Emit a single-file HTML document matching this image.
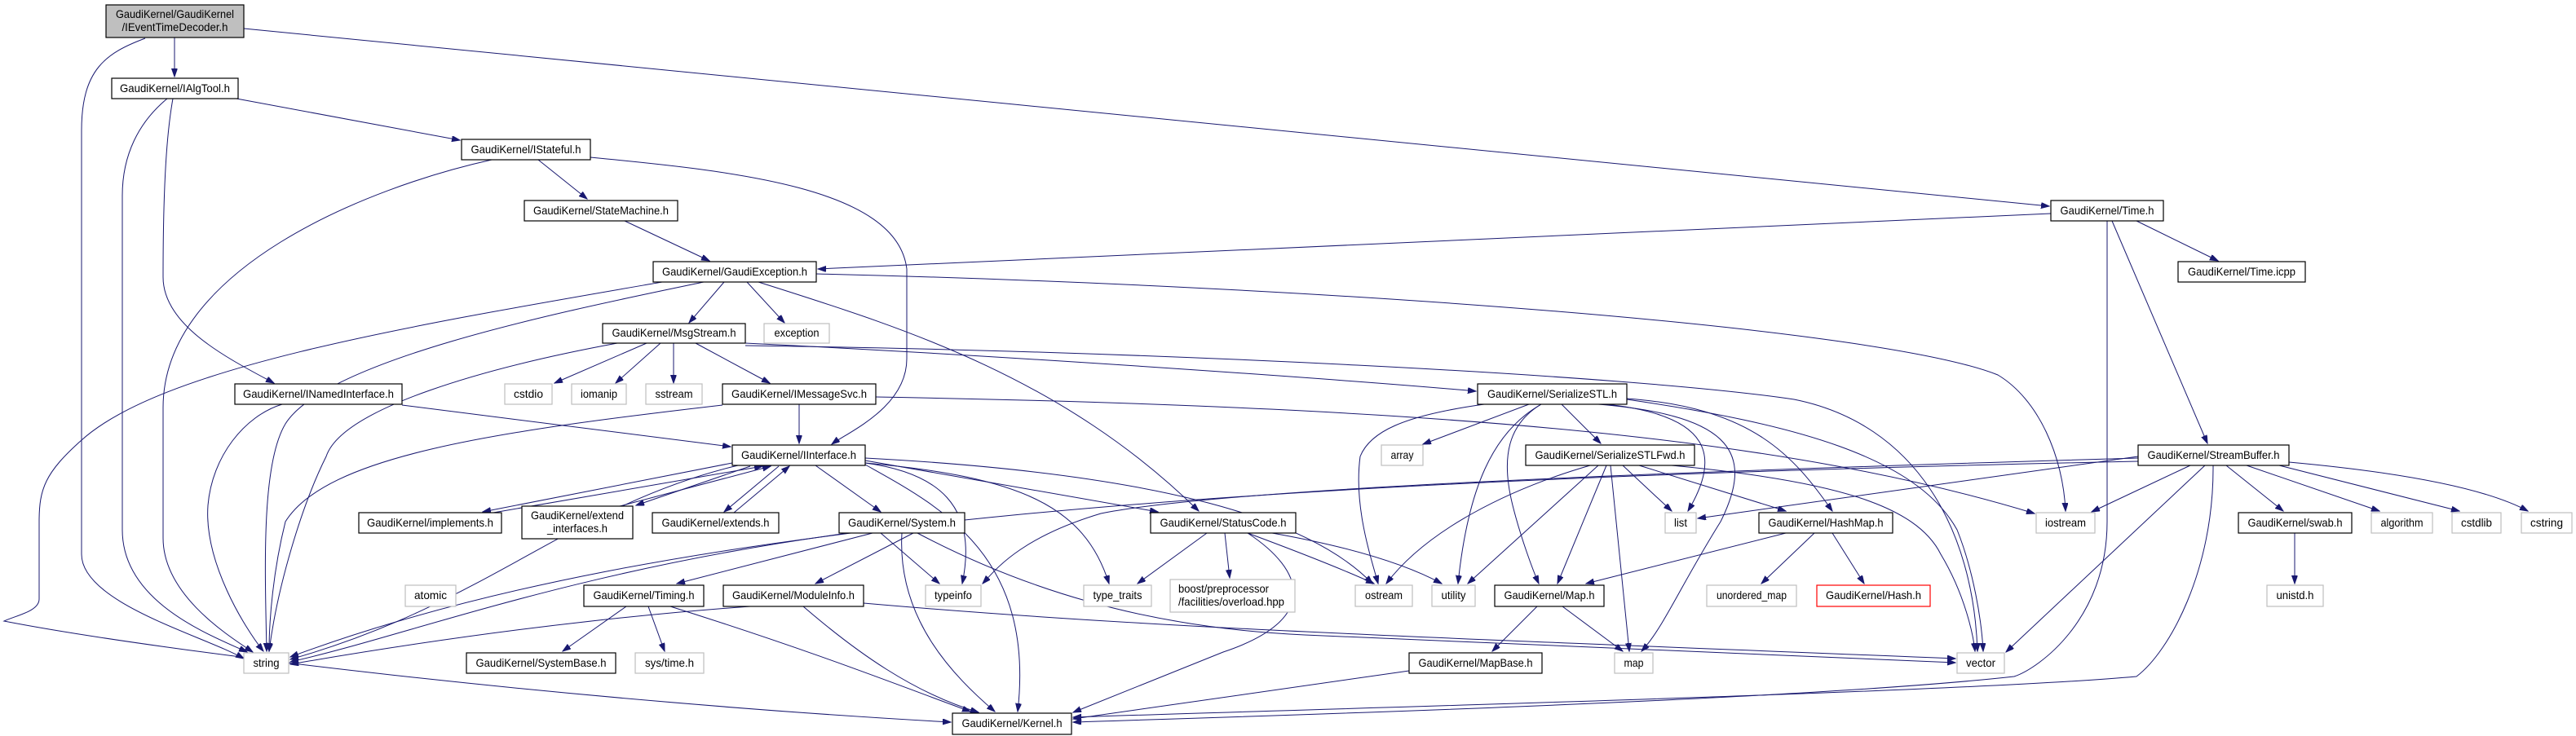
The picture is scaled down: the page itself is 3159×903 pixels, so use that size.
<!DOCTYPE html>
<html><head><meta charset="utf-8"><style>
html,body{margin:0;padding:0;background:#fff;}
svg{display:block;}
text{font-family:"Liberation Sans",sans-serif;font-size:14px;fill:#000;}
.b{fill:#fff;stroke:#000;stroke-width:1.2;}
.g{fill:#fff;stroke:#bfbfbf;stroke-width:1.2;}
.r{fill:#fff;stroke:#ff0000;stroke-width:1.2;}
.e path{fill:none;stroke:#191970;stroke-width:1;marker-end:url(#a);}
</style></head><body>
<svg width="3159" height="903" viewBox="0 0 3159 903" xmlns="http://www.w3.org/2000/svg">
<defs><marker id="a" markerUnits="userSpaceOnUse" markerWidth="11" markerHeight="8" refX="10" refY="3.5" orient="auto"><path d="M0,0 L10,3.5 L0,7 z" fill="#191970" stroke="#191970"/></marker></defs>
<g class="e">
<path d="M214,46 L214,94"/>
<path d="M178,47 C130,65 100,85 100,160 L100,680 C100,740 250,780 299,808"/>
<path d="M299,35 L2513,253"/>
<path d="M290,121 L564,172"/>
<path d="M205,121 C170,150 150,190 150,240 L150,650 C150,740 260,780 303,800"/>
<path d="M212,121 C205,160 200,220 200,340 C200,400 280,440 336,470"/>
<path d="M660,196 L720,244"/>
<path d="M603,196 C450,230 200,330 200,500 L200,660 C200,730 280,780 310,800"/>
<path d="M724,193 C900,210 1100,230 1112,330 L1112,440 C1112,500 1040,530 1020,545"/>
<path d="M766,271 L870,320"/>
<path d="M888,346 L845,396"/>
<path d="M916,346 L962,396"/>
<path d="M863,346 C700,380 400,440 350,520 C320,570 325,700 327,799"/>
<path d="M812,346 C500,400 200,450 100,540 C55,580 48,600 48,640 L48,735 C48,750 20,755 5,762 C200,800 700,860 1166,886"/>
<path d="M930,346 C1100,400 1300,460 1470,627"/>
<path d="M1001,336 C1600,350 2300,400 2450,460 C2500,490 2530,560 2533,627"/>
<path d="M2515,262 C1800,290 1100,330 1003,330"/>
<path d="M2620,271 L2720,320"/>
<path d="M2590,271 L2707,544"/>
<path d="M2584,271 L2584,640 C2584,760 2500,820 2470,830 C2200,860 1500,880 1316,886"/>
<path d="M793,421 L680,470"/>
<path d="M810,421 L755,470"/>
<path d="M826,421 L826,470"/>
<path d="M853,421 L944,470"/>
<path d="M757,421 C600,450 420,500 400,560 C370,620 340,720 330,799"/>
<path d="M914,421 C1300,440 1700,470 1810,480"/>
<path d="M914,424 C1400,430 2000,460 2200,490 C2350,520 2420,650 2425,799"/>
<path d="M980,496 L980,544"/>
<path d="M886,497 C600,530 400,560 350,640 C335,700 330,760 330,799"/>
<path d="M1074,487 C1800,500 2200,540 2495,630"/>
<path d="M493,497 L896,548"/>
<path d="M346,496 C300,510 260,560 255,620 C250,690 300,770 323,799"/>
<path d="M898,568 L592,628"/>
<path d="M605,629 L935,572"/>
<path d="M920,572 L780,620"/>
<path d="M760,621 L945,572"/>
<path d="M955,572 L888,628"/>
<path d="M900,629 L968,572"/>
<path d="M1000,571 L1080,628"/>
<path d="M1061,565 L1420,628"/>
<path d="M1061,568 C1150,580 1200,620 1180,716"/>
<path d="M1061,568 C1250,585 1330,620 1360,716"/>
<path d="M1061,562 C1400,580 1600,630 1683,716"/>
<path d="M1061,570 C1150,620 1270,680 1248,873"/>
<path d="M905,571 C700,620 600,740 356,809"/>
<path d="M1040,654 C700,700 500,780 356,812"/>
<path d="M1080,654 L1152,716"/>
<path d="M1106,654 C1100,760 1170,830 1220,873"/>
<path d="M1070,654 L830,716"/>
<path d="M1120,654 L1000,716"/>
<path d="M1125,654 C1250,720 1400,770 1600,779 L2398,813"/>
<path d="M768,744 L690,799"/>
<path d="M795,744 L815,799"/>
<path d="M822,744 C1000,800 1100,840 1190,873"/>
<path d="M920,744 C700,760 500,790 356,815"/>
<path d="M985,744 C1050,800 1120,850 1200,874"/>
<path d="M1059,740 C1400,770 1700,780 2398,808"/>
<path d="M1480,654 L1395,716"/>
<path d="M1502,654 L1508,709"/>
<path d="M1530,654 C1600,680 1650,700 1685,716"/>
<path d="M1560,654 C1650,670 1720,690 1768,716"/>
<path d="M1530,654 C1600,700 1620,760 1500,800 C1400,840 1350,860 1316,874"/>
<path d="M1820,496 C1720,510 1680,530 1668,560 C1660,620 1680,680 1690,716"/>
<path d="M1875,496 L1745,545"/>
<path d="M1915,496 L1963,544"/>
<path d="M1890,496 C1830,530 1800,600 1788,716"/>
<path d="M1890,496 C1850,520 1840,560 1855,620 C1865,660 1880,700 1887,716"/>
<path d="M1960,496 C2130,510 2150,560 2110,640 C2060,720 2040,770 2013,799"/>
<path d="M1970,496 C2100,510 2110,560 2070,627"/>
<path d="M1995,489 C2150,500 2200,560 2247,627"/>
<path d="M1995,490 C2200,520 2350,560 2400,650 C2420,700 2430,760 2432,799"/>
<path d="M1950,571 C1850,600 1750,650 1700,716"/>
<path d="M1960,571 L1800,716"/>
<path d="M1970,571 L1910,716"/>
<path d="M1975,571 L1998,799"/>
<path d="M1990,571 L2050,627"/>
<path d="M2010,571 L2190,627"/>
<path d="M2050,571 C2250,590 2350,620 2380,680 C2410,730 2420,780 2422,799"/>
<path d="M2190,654 L1945,716"/>
<path d="M2225,654 L2160,716"/>
<path d="M2247,654 L2286,716"/>
<path d="M1885,744 L1830,799"/>
<path d="M1916,744 L1990,799"/>
<path d="M1728,823 L1316,882"/>
<path d="M2730,571 L2800,627"/>
<path d="M2755,571 L2918,627"/>
<path d="M2795,571 L3016,627"/>
<path d="M2807,567 C2950,580 3050,600 3100,627"/>
<path d="M2622,560 L2082,636"/>
<path d="M2686,571 L2565,628"/>
<path d="M2704,571 L2460,800"/>
<path d="M2714,571 C2715,700 2660,800 2620,830 C2400,850 1600,870 1316,880"/>
<path d="M2622,562 C2000,580 1500,600 1350,630 C1250,660 1220,700 1205,716"/>
<path d="M2622,566 C1500,590 800,640 356,806"/>
<path d="M2814,654 L2814,716"/>
</g>
<g>
<rect x="130" y="6" width="169" height="40" fill="#bfbfbf" stroke="#000" stroke-width="1.2"/>
<text x="214.5" y="22" text-anchor="middle" textLength="145" lengthAdjust="spacingAndGlyphs">GaudiKernel/GaudiKernel</text>
<text x="214.5" y="38" text-anchor="middle" textLength="130" lengthAdjust="spacingAndGlyphs">/IEventTimeDecoder.h</text>

<rect class="b" x="137" y="96" width="155" height="25"/><text x="214.5" y="113" text-anchor="middle" textLength="135" lengthAdjust="spacingAndGlyphs">GaudiKernel/IAlgTool.h</text>
<rect class="b" x="288" y="471" width="205" height="25"/><text x="390.5" y="488" text-anchor="middle" textLength="185" lengthAdjust="spacingAndGlyphs">GaudiKernel/INamedInterface.h</text>
<rect class="g" x="299" y="801" width="55" height="25"/><text x="326.5" y="818" text-anchor="middle" textLength="32" lengthAdjust="spacingAndGlyphs">string</text>
<rect class="b" x="440" y="629" width="175" height="25"/><text x="527.5" y="646" text-anchor="middle" textLength="155" lengthAdjust="spacingAndGlyphs">GaudiKernel/implements.h</text>
<rect class="g" x="497" y="718" width="62" height="26"/><text x="528" y="735" text-anchor="middle" textLength="40" lengthAdjust="spacingAndGlyphs">atomic</text>
<rect class="b" x="566" y="171" width="158" height="25"/><text x="645" y="188" text-anchor="middle" textLength="135" lengthAdjust="spacingAndGlyphs">GaudiKernel/IStateful.h</text>
<rect class="b" x="643" y="246" width="188" height="25"/><text x="737" y="263" text-anchor="middle" textLength="166" lengthAdjust="spacingAndGlyphs">GaudiKernel/StateMachine.h</text>
<rect class="b" x="801" y="321" width="200" height="25"/><text x="901" y="338" text-anchor="middle" textLength="178" lengthAdjust="spacingAndGlyphs">GaudiKernel/GaudiException.h</text>
<rect class="b" x="739" y="397" width="175" height="24"/><text x="826.5" y="413" text-anchor="middle" textLength="152" lengthAdjust="spacingAndGlyphs">GaudiKernel/MsgStream.h</text>
<rect class="g" x="937" y="397" width="80" height="24"/><text x="977" y="413" text-anchor="middle" textLength="55" lengthAdjust="spacingAndGlyphs">exception</text>
<rect class="g" x="619" y="471" width="58" height="25"/><text x="648" y="488" text-anchor="middle" textLength="36" lengthAdjust="spacingAndGlyphs">cstdio</text>
<rect class="g" x="701" y="471" width="67" height="25"/><text x="734.5" y="488" text-anchor="middle" textLength="45" lengthAdjust="spacingAndGlyphs">iomanip</text>
<rect class="g" x="792" y="471" width="69" height="25"/><text x="826.5" y="488" text-anchor="middle" textLength="46" lengthAdjust="spacingAndGlyphs">sstream</text>
<rect class="b" x="886" y="471" width="188" height="25"/><text x="980" y="488" text-anchor="middle" textLength="166" lengthAdjust="spacingAndGlyphs">GaudiKernel/IMessageSvc.h</text>
<rect class="b" x="898" y="546" width="163" height="25"/><text x="979.5" y="563" text-anchor="middle" textLength="141" lengthAdjust="spacingAndGlyphs">GaudiKernel/IInterface.h</text>
<rect class="b" x="640" y="621" width="136" height="40"/><text x="708" y="637" text-anchor="middle" textLength="114" lengthAdjust="spacingAndGlyphs">GaudiKernel/extend</text><text x="708" y="653" text-anchor="middle" textLength="74" lengthAdjust="spacingAndGlyphs">_interfaces.h</text>
<rect class="b" x="800" y="629" width="155" height="25"/><text x="877.5" y="646" text-anchor="middle" textLength="132" lengthAdjust="spacingAndGlyphs">GaudiKernel/extends.h</text>
<rect class="b" x="1029" y="629" width="154" height="25"/><text x="1106" y="646" text-anchor="middle" textLength="132" lengthAdjust="spacingAndGlyphs">GaudiKernel/System.h</text>
<rect class="b" x="716" y="718" width="147" height="26"/><text x="789.5" y="735" text-anchor="middle" textLength="124" lengthAdjust="spacingAndGlyphs">GaudiKernel/Timing.h</text>
<rect class="b" x="887" y="718" width="172" height="26"/><text x="973" y="735" text-anchor="middle" textLength="150" lengthAdjust="spacingAndGlyphs">GaudiKernel/ModuleInfo.h</text>
<rect class="b" x="572" y="801" width="183" height="25"/><text x="663.5" y="818" text-anchor="middle" textLength="160" lengthAdjust="spacingAndGlyphs">GaudiKernel/SystemBase.h</text>
<rect class="g" x="779" y="801" width="84" height="25"/><text x="821" y="818" text-anchor="middle" textLength="60" lengthAdjust="spacingAndGlyphs">sys/time.h</text>
<rect class="g" x="1135" y="718" width="68" height="26"/><text x="1169" y="735" text-anchor="middle" textLength="46" lengthAdjust="spacingAndGlyphs">typeinfo</text>
<rect class="g" x="1329" y="718" width="83" height="26"/><text x="1370.5" y="735" text-anchor="middle" textLength="60" lengthAdjust="spacingAndGlyphs">type_traits</text>
<rect class="b" x="1411" y="629" width="178" height="25"/><text x="1500" y="646" text-anchor="middle" textLength="155" lengthAdjust="spacingAndGlyphs">GaudiKernel/StatusCode.h</text>
<rect class="g" x="1435" y="711" width="153" height="40"/><text x="1445" y="727" textLength="111" lengthAdjust="spacingAndGlyphs">boost/preprocessor</text><text x="1445" y="743" textLength="130" lengthAdjust="spacingAndGlyphs">/facilities/overload.hpp</text>
<rect class="b" x="1168" y="875" width="146" height="26"/><text x="1241" y="892" text-anchor="middle" textLength="123" lengthAdjust="spacingAndGlyphs">GaudiKernel/Kernel.h</text>
<rect class="b" x="1812" y="471" width="183" height="25"/><text x="1903.5" y="488" text-anchor="middle" textLength="159" lengthAdjust="spacingAndGlyphs">GaudiKernel/SerializeSTL.h</text>
<rect class="g" x="1694" y="546" width="51" height="25"/><text x="1719.5" y="563" text-anchor="middle" textLength="28" lengthAdjust="spacingAndGlyphs">array</text>
<rect class="b" x="1871" y="546" width="207" height="25"/><text x="1974.5" y="563" text-anchor="middle" textLength="184" lengthAdjust="spacingAndGlyphs">GaudiKernel/SerializeSTLFwd.h</text>
<rect class="g" x="2042" y="629" width="38" height="25"/><text x="2061" y="646" text-anchor="middle" textLength="16" lengthAdjust="spacingAndGlyphs">list</text>
<rect class="g" x="1662" y="718" width="70" height="26"/><text x="1697" y="735" text-anchor="middle" textLength="46" lengthAdjust="spacingAndGlyphs">ostream</text>
<rect class="g" x="1756" y="718" width="53" height="26"/><text x="1782.5" y="735" text-anchor="middle" textLength="30" lengthAdjust="spacingAndGlyphs">utility</text>
<rect class="b" x="1833" y="718" width="134" height="26"/><text x="1900" y="735" text-anchor="middle" textLength="111" lengthAdjust="spacingAndGlyphs">GaudiKernel/Map.h</text>
<rect class="b" x="1728" y="801" width="163" height="25"/><text x="1809.5" y="818" text-anchor="middle" textLength="140" lengthAdjust="spacingAndGlyphs">GaudiKernel/MapBase.h</text>
<rect class="g" x="1980" y="801" width="47" height="25"/><text x="2003.5" y="818" text-anchor="middle" textLength="24" lengthAdjust="spacingAndGlyphs">map</text>
<rect class="g" x="2093" y="718" width="110" height="26"/><text x="2148" y="735" text-anchor="middle" textLength="86" lengthAdjust="spacingAndGlyphs">unordered_map</text>
<rect class="b" x="2515" y="246" width="138" height="25"/><text x="2584" y="263" text-anchor="middle" textLength="115" lengthAdjust="spacingAndGlyphs">GaudiKernel/Time.h</text>
<rect class="b" x="2157" y="629" width="164" height="25"/><text x="2239" y="646" text-anchor="middle" textLength="141" lengthAdjust="spacingAndGlyphs">GaudiKernel/HashMap.h</text>
<rect class="r" x="2228" y="718" width="139" height="26"/><text x="2297.5" y="735" text-anchor="middle" textLength="117" lengthAdjust="spacingAndGlyphs">GaudiKernel/Hash.h</text>
<rect class="g" x="2497" y="629" width="72" height="25"/><text x="2533" y="646" text-anchor="middle" textLength="50" lengthAdjust="spacingAndGlyphs">iostream</text>
<rect class="g" x="2400" y="801" width="58" height="25"/><text x="2429" y="818" text-anchor="middle" textLength="36" lengthAdjust="spacingAndGlyphs">vector</text>
<rect class="b" x="2671" y="321" width="156" height="25"/><text x="2749" y="338" text-anchor="middle" textLength="132" lengthAdjust="spacingAndGlyphs">GaudiKernel/Time.icpp</text>
<rect class="b" x="2622" y="546" width="185" height="25"/><text x="2714.5" y="563" text-anchor="middle" textLength="162" lengthAdjust="spacingAndGlyphs">GaudiKernel/StreamBuffer.h</text>
<rect class="b" x="2745" y="629" width="139" height="25"/><text x="2814.5" y="646" text-anchor="middle" textLength="116" lengthAdjust="spacingAndGlyphs">GaudiKernel/swab.h</text>
<rect class="g" x="2908" y="629" width="75" height="25"/><text x="2945.5" y="646" text-anchor="middle" textLength="52" lengthAdjust="spacingAndGlyphs">algorithm</text>
<rect class="g" x="3007" y="629" width="60" height="25"/><text x="3037" y="646" text-anchor="middle" textLength="38" lengthAdjust="spacingAndGlyphs">cstdlib</text>
<rect class="g" x="3092" y="629" width="62" height="25"/><text x="3123" y="646" text-anchor="middle" textLength="40" lengthAdjust="spacingAndGlyphs">cstring</text>
<rect class="g" x="2780" y="718" width="69" height="26"/><text x="2814.5" y="735" text-anchor="middle" textLength="46" lengthAdjust="spacingAndGlyphs">unistd.h</text>
</g>
</svg>
</body></html>
